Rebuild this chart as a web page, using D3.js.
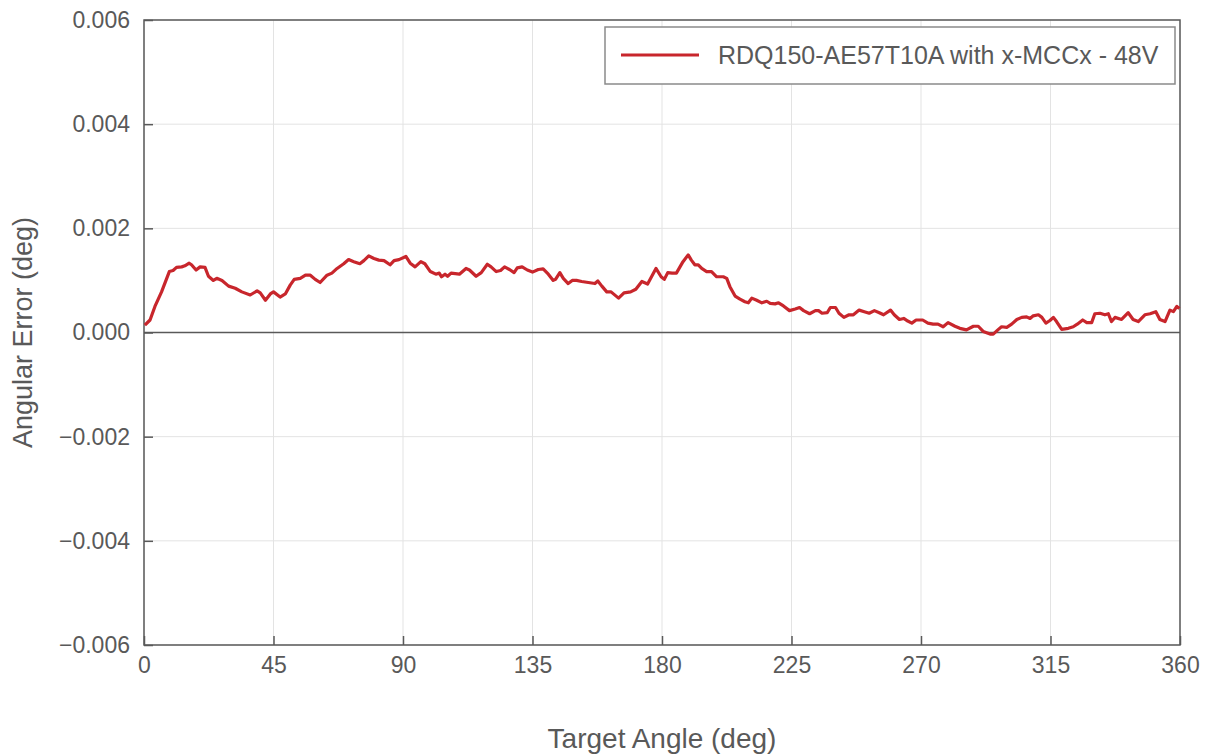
<!DOCTYPE html>
<html>
<head>
<meta charset="utf-8">
<script src="https://cdn.jsdelivr.net/npm/d3@7"></script>
<style>
  body { margin: 0; background: #fff; }
  svg text { font-family: "Liberation Sans", Arial, sans-serif; fill: #595959; }
</style>
</head>
<body>
<script>
// target angle (deg)
const targetAngle = [
  0.3, 2.1, 3.8, 6.1, 8.8, 10.1, 11.3, 13.1, 14.2, 15.7, 16.5, 18.1, 19.5, 21.2, 22.4, 24.1, 25.3, 27.1, 29.4, 31.7,
  34, 36.9, 39.3, 40.4, 42.2, 43.9, 45, 47.3, 49.1, 50.8, 52.2, 54.3, 56.1, 57.8, 59.5, 61.2, 63.6, 65.3, 67.1, 69.4,
  71.1, 72.9, 75, 76.4, 78.1, 79.9, 81.6, 83.4, 85.5, 86.9, 88.6, 91, 92.5, 94.2, 96.2, 97.6, 99.5, 101.4, 102.6, 103.4,
  104.6, 105.5, 106.7, 109.6, 111.9, 113.1, 115.4, 117.2, 119.3, 120.6, 122.4, 123.9, 125.3, 127, 128.6, 129.7, 131.4, 133.2, 135, 137,
  138.7, 140.5, 142.2, 143, 144.5, 145.7, 147.4, 148.8, 150.3, 152.1, 154.4, 156.7, 157.7, 159.1, 160.8, 162.3, 164.9, 166.8, 169.1, 170.9,
  173, 175, 177.9, 179.7, 180.8, 182, 183.5, 185, 187.3, 189.1, 190.2, 191.4, 192.6, 193.8, 195.5, 197.2, 199, 201.3, 202.5, 203.6,
  205.4, 207.1, 208.8, 210, 211.2, 212.9, 214.7, 216.4, 217.6, 219.3, 220.5, 222.2, 224.3, 226.3, 227.8, 229.2, 231.3, 233.3, 234.4, 235.6,
  237.4, 238.5, 240.3, 241.5, 243.2, 245, 246.5, 248.5, 250.3, 252, 253.8, 255.5, 257, 259.4, 260.7, 262.5, 264, 265.4, 266.8, 268.3,
  270.6, 272.4, 274.2, 275.9, 277.7, 279.4, 281.8, 283.5, 285.8, 288.2, 289.9, 291.6, 294, 295.1, 296.9, 298, 299.8, 301.5, 303.3, 305,
  306.7, 307.9, 309, 310.8, 312, 313.4, 314.8, 316, 317.1, 318.9, 321.2, 322.9, 324.3, 326.2, 327.6, 329.3, 330.4, 332.2, 333.9, 335.1,
  336.2, 337.4, 339.7, 342, 343.7, 345.5, 347.8, 349.6, 351.6, 353, 354.8, 356.5, 357.7, 358.9, 359.8
];
// angular error (deg)
const angularError = [
  0.00014, 0.00024, 0.0005, 0.00078, 0.00117, 0.00119, 0.00125, 0.00126, 0.00128, 0.00133, 0.0013, 0.0012, 0.00126, 0.00125, 0.00108, 0.001, 0.00104, 0.001, 0.00089, 0.00085,
  0.00078, 0.00072, 0.0008, 0.00076, 0.00062, 0.00074, 0.00078, 0.00068, 0.00074, 0.00091, 0.00102, 0.00104, 0.0011, 0.0011, 0.00102, 0.00096, 0.0011, 0.00114, 0.00123, 0.00132,
  0.0014, 0.00136, 0.00132, 0.00138, 0.00147, 0.00142, 0.00139, 0.00138, 0.0013, 0.00138, 0.0014, 0.00146, 0.00133, 0.00126, 0.00136, 0.00132, 0.00117, 0.00112, 0.00114, 0.00107,
  0.00112, 0.00108, 0.00114, 0.00112, 0.00123, 0.0012, 0.00108, 0.00115, 0.00131, 0.00126, 0.00117, 0.00119, 0.00126, 0.00121, 0.00115, 0.00124, 0.00126, 0.0012, 0.00116, 0.00121,
  0.00122, 0.00112, 0.001, 0.00102, 0.00115, 0.00104, 0.00094, 0.001, 0.001, 0.00098, 0.00096, 0.00094, 0.00099, 0.00089, 0.00078, 0.00078, 0.00066, 0.00076, 0.00078, 0.00083,
  0.00098, 0.00093, 0.00123, 0.00107, 0.00102, 0.00115, 0.00114, 0.00114, 0.00136, 0.00149, 0.00139, 0.0013, 0.0013, 0.00123, 0.00117, 0.00117, 0.00107, 0.00107, 0.00104, 0.00088,
  0.0007, 0.00064, 0.00059, 0.00057, 0.00066, 0.00062, 0.00057, 0.0006, 0.00056, 0.00055, 0.00057, 0.00051, 0.00042, 0.00045, 0.00048, 0.00042, 0.00036, 0.00042, 0.00042, 0.00037,
  0.00038, 0.00048, 0.00048, 0.00037, 0.00029, 0.00034, 0.00034, 0.00043, 0.0004, 0.00037, 0.00042, 0.00038, 0.00034, 0.00043, 0.00034, 0.00025, 0.00027, 0.00022, 0.00018, 0.00024,
  0.00024, 0.00018, 0.00016, 0.00016, 0.00011, 0.00019, 0.00012, 0.00008, 0.00005, 0.00012, 0.00012, 0.00002, -0.00003, -0.00003, 0.00006, 0.00011, 0.0001, 0.00016, 0.00025, 0.00029,
  0.0003, 0.00027, 0.00032, 0.00034, 0.00029, 0.00018, 0.00023, 0.00029, 0.00021, 0.00006, 0.00008, 0.00011, 0.00016, 0.00024, 0.00019, 0.00019, 0.00036, 0.00037, 0.00034, 0.00036,
  0.00021, 0.00029, 0.00025, 0.00038, 0.00025, 0.00021, 0.00034, 0.00036, 0.0004, 0.00025, 0.00021, 0.00043, 0.0004, 0.0005, 0.00046
];
const xTicks = [0, 45, 90, 135, 180, 225, 270, 315, 360];
const yTicks = [-0.006, -0.004, -0.002, 0, 0.002, 0.004, 0.006];
const seriesName = "RDQ150-AE57T10A with x-MCCx - 48V";

const width = 1208;
const height = 756;
const plotLeft = 144, plotRight = 1180, plotTop = 20, plotBottom = 645;
const axisColor = "#595959";
const lineColor = "#c8262c";

const svg = d3.select("body")
              .append("svg")
              .attr("width", width)
              .attr("height", height);

let x = d3.scaleLinear().domain([0, 360]).range([plotLeft, plotRight]);
let y = d3.scaleLinear().domain([-0.006, 0.006]).range([plotBottom, plotTop]);

// grid
svg.append("g")
   .selectAll("line")
   .data(xTicks)
   .enter()
   .append("line")
   .attr("x1", d => x(d)).attr("x2", d => x(d))
   .attr("y1", plotTop).attr("y2", plotBottom)
   .attr("stroke", "#e3e3e3")
   .attr("stroke-width", 1);

svg.append("g")
   .selectAll("line")
   .data(yTicks)
   .enter()
   .append("line")
   .attr("x1", plotLeft).attr("x2", plotRight)
   .attr("y1", d => y(d)).attr("y2", d => y(d))
   .attr("stroke", "#e3e3e3")
   .attr("stroke-width", 1);

// zero line
svg.append("line")
   .attr("x1", plotLeft).attr("x2", plotRight)
   .attr("y1", y(0)).attr("y2", y(0))
   .attr("stroke", axisColor)
   .attr("stroke-width", 1.5);

// frame
svg.append("rect")
   .attr("x", plotLeft).attr("y", plotTop)
   .attr("width", plotRight - plotLeft).attr("height", plotBottom - plotTop)
   .attr("fill", "none")
   .attr("stroke", axisColor)
   .attr("stroke-width", 1.5);

const xAxis = d3.axisBottom(x).tickValues(xTicks).tickSizeInner(-9).tickSizeOuter(0).tickPadding(12).tickFormat(d3.format("d"));
const yAxis = d3.axisLeft(y).tickValues(yTicks).tickSizeInner(-9).tickSizeOuter(0).tickPadding(14).tickFormat(d3.format(".3f"));

let gx = svg.append("g")
   .attr("transform", "translate(0," + plotBottom + ")")
   .call(xAxis);
let gy = svg.append("g")
   .attr("transform", "translate(" + plotLeft + ",0)")
   .call(yAxis);

[gx, gy].forEach(g => {
  g.select(".domain").remove();
  g.selectAll(".tick line").attr("stroke", axisColor).attr("stroke-width", 1.5);
  g.selectAll(".tick text").style("font-size", "23px").attr("fill", axisColor);
});

// data line
const pts = targetAngle.map((a, i) => [a, angularError[i]]);
svg.append("path")
   .datum(pts)
   .attr("fill", "none")
   .attr("stroke", lineColor)
   .attr("stroke-width", 3.2)
   .attr("stroke-linejoin", "round")
   .attr("d", d3.line().x(d => x(d[0])).y(d => y(d[1])));

// axis titles
svg.append("text")
   .attr("x", (plotLeft + plotRight) / 2)
   .attr("y", 748)
   .attr("text-anchor", "middle")
   .style("font-size", "28px")
   .text("Target Angle (deg)");

svg.append("text")
   .attr("transform", "translate(32," + (plotTop + plotBottom) / 2 + ") rotate(-90)")
   .attr("text-anchor", "middle")
   .style("font-size", "27px")
   .text("Angular Error (deg)");

// legend
let legend = svg.append("g");
legend.append("rect")
      .attr("x", 605).attr("y", 27)
      .attr("width", 570).attr("height", 57)
      .attr("fill", "#fff")
      .attr("stroke", "#8a8a8a")
      .attr("stroke-width", 1.5);
legend.append("line")
      .attr("x1", 621).attr("x2", 699)
      .attr("y1", 55).attr("y2", 55)
      .attr("stroke", lineColor)
      .attr("stroke-width", 3);
legend.append("text")
      .attr("x", 718).attr("y", 64)
      .style("font-size", "25px")
      .attr("fill", axisColor)
      .text(seriesName);
</script>
</body>
</html>
